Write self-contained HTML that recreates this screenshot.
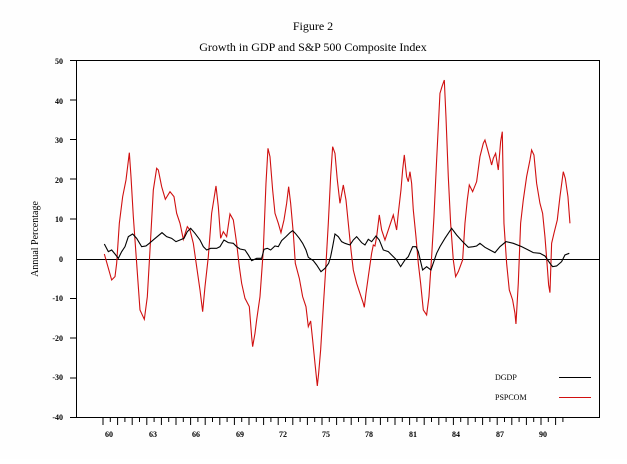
<!DOCTYPE html>
<html><head><style>
body{margin:0;background:#fff}
svg text{font-family:"Liberation Serif",serif}
</style></head><body>
<svg width="627" height="459" viewBox="0 0 627 459" xmlns="http://www.w3.org/2000/svg">
<rect width="627" height="459" fill="#fefefe"/>
<text x="313" y="30" font-size="12" text-anchor="middle">Figure 2</text>
<text x="313" y="51" font-size="12" text-anchor="middle">Growth in GDP and S&amp;P 500 Composite Index</text>
<rect x="76.5" y="60.5" width="523" height="357" fill="none" stroke="#000" stroke-width="1"/>
<line x1="76" y1="259.5" x2="600" y2="259.5" stroke="#000"/>
<g font-size="8" text-anchor="end" font-weight="bold">
<text x="63" y="64">50</text><text x="63" y="104">40</text><text x="63" y="143">30</text>
<text x="63" y="183">20</text><text x="63" y="222">10</text><text x="63" y="262">0</text>
<text x="63" y="301">-10</text><text x="63" y="341">-20</text><text x="63" y="380">-30</text><text x="63" y="420">-40</text>
</g>
<g stroke="#000">
<line x1="70" y1="60.5" x2="76" y2="60.5"/><line x1="70" y1="100" x2="76" y2="100"/><line x1="70" y1="139.5" x2="76" y2="139.5"/>
<line x1="70" y1="179" x2="76" y2="179"/><line x1="70" y1="219" x2="76" y2="219"/><line x1="70" y1="298.5" x2="76" y2="298.5"/>
<line x1="70" y1="338" x2="76" y2="338"/><line x1="70" y1="378" x2="76" y2="378"/><line x1="70" y1="417.5" x2="76" y2="417.5"/>
</g>
<text transform="translate(38,239) rotate(-90)" font-size="10" text-anchor="middle">Annual Percentage</text>
<g id="ticks" stroke="#000"></g>
<g font-size="8" font-weight="bold" text-anchor="middle">
<text x="109" y="437">60</text><text x="153" y="437">63</text><text x="196" y="437">66</text><text x="240" y="437">69</text>
<text x="283" y="437">72</text><text x="326" y="437">75</text><text x="369" y="437">78</text><text x="413" y="437">81</text>
<text x="456" y="437">84</text><text x="500" y="437">87</text><text x="543" y="437">90</text>
</g>
<g transform="translate(60,50) scale(0.3333)" fill="none" stroke-width="3.3">
<polyline stroke="#d01010" points="133,612 155,690 165,680 170,640 178,520 188,440 198,390 208,308 213,380 220,500 230,640 240,780 253,808 262,740 270,600 280,420 290,355 295,360 305,410 316,448 330,425 342,440 350,490 360,520 370,568 382,530 390,540 400,580 410,650 420,720 428,785 435,710 445,620 455,490 468,408 475,470 482,565 490,545 500,560 510,492 520,510 530,580 538,650 545,700 555,745 568,770 575,860 578,890 585,850 590,810 600,740 610,600 618,400 624,295 630,320 638,420 645,490 655,520 663,548 672,510 680,460 686,410 692,460 700,550 706,640 718,685 728,740 738,770 745,830 752,813 758,870 765,940 772,1008 776,970 782,900 790,770 797,660 805,520 812,380 818,290 825,310 832,390 840,460 850,405 858,450 865,520 873,600 880,660 890,700 900,730 910,760 913,772 918,730 925,680 935,610 940,585 945,588 950,560 958,495 965,540 975,570 985,540 1000,495 1010,540 1015,490 1023,420 1028,360 1033,315 1040,380 1045,395 1050,365 1055,400 1060,480 1068,560 1075,640 1082,700 1090,780 1100,795 1107,740 1115,620 1122,500 1130,330 1135,230 1140,130 1146,110 1153,90 1158,200 1165,380 1172,520 1180,630 1187,680 1195,665 1208,630 1215,520 1222,450 1228,405 1238,425 1250,395 1260,320 1270,280 1275,270 1282,295 1290,325 1295,345 1300,325 1307,310 1315,360 1322,275 1327,245 1332,520 1340,640 1348,720 1358,750 1365,790 1368,822 1375,700 1382,520 1390,450 1400,380 1410,330 1415,300 1422,315 1430,400 1440,460 1448,490 1455,560 1462,650 1466,705 1470,728 1475,580 1482,550 1492,510 1500,440 1510,365 1516,385 1524,440 1530,520"/>
<polyline stroke="#000" points="133,582 145,605 155,600 165,612 175,625 185,605 195,590 205,560 218,552 230,565 245,590 258,588 268,580 282,568 306,548 320,560 335,565 348,575 360,570 372,565 382,545 392,535 405,550 420,570 430,590 440,600 452,595 470,595 480,590 492,570 505,578 520,580 530,590 540,597 555,600 565,615 575,632 590,625 605,625 612,598 622,595 632,600 645,588 655,590 665,572 678,560 690,548 698,542 706,550 718,565 728,580 738,600 745,622 760,632 770,645 783,665 795,655 806,640 812,620 818,590 825,552 835,560 845,575 855,580 870,585 880,570 890,560 905,578 915,585 925,568 935,575 948,558 958,570 970,600 985,605 995,615 1010,630 1022,650 1035,630 1045,620 1058,590 1068,590 1075,605 1088,660 1100,650 1113,660 1130,610 1140,590 1155,565 1175,535 1190,555 1208,575 1225,592 1240,590 1250,588 1260,580 1275,592 1290,600 1305,608 1320,590 1338,575 1360,580 1385,590 1405,600 1420,608 1440,610 1455,618 1470,640 1478,650 1490,648 1505,635 1515,615 1528,610"/>
</g>
<text x="495" y="380" font-size="8">DGDP</text>
<text x="495" y="400" font-size="8">PSPCOM</text>
<line x1="559" y1="377.5" x2="591" y2="377.5" stroke="#000"/>
<line x1="559" y1="397.5" x2="591" y2="397.5" stroke="#d01010"/>
<script>
var g=document.getElementById('ticks');
for(var i=0;i<64;i++){var x=103+i*7.3;var l=document.createElementNS('http://www.w3.org/2000/svg','line');
l.setAttribute('x1',x);l.setAttribute('x2',x);l.setAttribute('y1',418);l.setAttribute('y2',i%2?422:425);g.appendChild(l);}
</script>
</svg>
</body></html>
